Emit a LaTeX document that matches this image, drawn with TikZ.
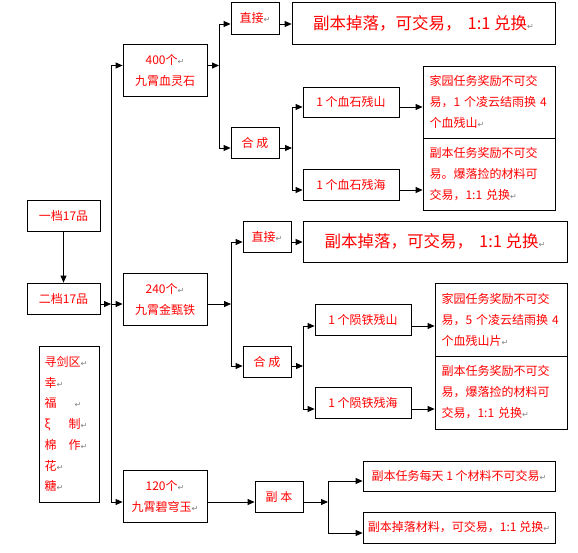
\documentclass[tikz,border=0pt]{standalone}
\usepackage{fontspec}
\setmainfont{Noto Sans CJK SC}
\newfontfamily\symfont{DejaVu Sans}
\usepackage{tikz}
\usetikzlibrary{arrows.meta}
\definecolor{txtred}{RGB}{255, 0, 0}
\definecolor{markgray}{RGB}{128, 128, 128}
\newcommand{\retmk}{{\color{markgray}\symfont\fontsize{8}{8}\selectfont ↵}}

\begin{document}
\begin{tikzpicture}[x=1pt, y=-1pt, line width=0.8pt, >={Triangle[length=7pt, width=6pt]},
  font=\fontsize{12}{21}\selectfont,
  box/.style={draw, text=txtred, inner sep=0pt, align=center},
  note/.style={box, align=left, text width=119pt, minimum width=132pt, minimum height=72pt},
  bignote/.style={box, font=\fontsize{16.5}{20}\selectfont}]
\useasboundingbox (0,0) rectangle (578,552);
% Left column: grades and signature
\node[box, minimum width=73pt, minimum height=31pt] (d1) at (63.5,215.5) {一档17品};
\node[box, minimum width=73pt, minimum height=31pt] (d2) at (63.5,298.5) {二档17品};
\node[box, align=left, text width=49pt, minimum width=60pt, minimum height=156pt,
  font=\fontsize{12}{20.7}\selectfont] (sig) at (69,424)
  {寻剑区\retmk\\ 幸\retmk\\ \makebox[30pt][l]{福}\retmk\\ \makebox[24pt][l]{ξ}制\retmk\\
   \makebox[24pt][l]{棉}作\retmk\\ 花\retmk\\ 糖\retmk};

% Materials
\node[box, minimum width=84pt, minimum height=52pt] (n400) at (165,70) {400个\retmk\\九霄血灵石};
\node[box, minimum width=84pt, minimum height=52pt] (n240) at (165,299) {240个\retmk\\九霄金甄铁};
\node[box, minimum width=84pt, minimum height=52pt] (n120) at (165,496) {120个\retmk\\九霄碧穹玉\retmk};

% Upper branch
\node[box, minimum width=48pt, minimum height=32pt] (z1) at (255,18) {直接\retmk};
\node[box, minimum width=48pt, minimum height=31pt] (h1) at (255,142.5) {合 成};
\node[bignote, minimum width=263pt, minimum height=42pt] (b1) at (423.5,23)
  {副本掉落，可交易，\hspace{6pt}1:1 兑换\retmk};
\node[box, minimum width=96pt, minimum height=30pt] (s1) at (351,102) {1 个血石残山};
\node[box, minimum width=96pt, minimum height=31pt] (s2) at (351,184.5) {1 个血石残海};
\node[note] (t1) at (489,102) {家园任务奖励不可交\\易，1 个凌云结雨换 4\\个血残山\retmk};
\node[note] (t2) at (489,174) {副本任务奖励不可交\\易。爆落捡的材料可\\交易，1:1 兑换\retmk};

% Middle branch
\node[box, minimum width=48pt, minimum height=31pt] (z2) at (267,236.5) {直接\retmk};
\node[box, minimum width=48pt, minimum height=31pt] (h2) at (267,361.5) {合 成};
\node[bignote, minimum width=264pt, minimum height=41pt] (b2) at (435,241.5)
  {副本掉落，可交易，\hspace{6pt}1:1 兑换\retmk};
\node[box, minimum width=96pt, minimum height=31pt] (s3) at (363,319.5) {1 个陨铁残山};
\node[box, minimum width=96pt, minimum height=31pt] (s4) at (363,402.5) {1 个陨铁残海};
\node[note, minimum height=73pt] (t3) at (501,319.5) {家园任务奖励不可交\\易，5 个凌云结雨换 4\\个血残山片\retmk};
\node[note, minimum height=73pt] (t4) at (501,392.5) {副本任务奖励不可交\\易，爆落捡的材料可\\交易，1:1 兑换\retmk};

% Lower branch
\node[box, minimum width=48pt, minimum height=31pt] (f1) at (279,496.5) {副 本};
\node[box, minimum width=192pt, minimum height=30pt] (g1) at (459,476) {副本任务每天 1 个材料不可交易\retmk};
\node[box, minimum width=192pt, minimum height=31pt] (g2) at (459,527.5) {副本掉落材料，可交易，1:1 兑换\retmk};

% Junctions
\coordinate (tr) at (111,304);
\coordinate (j1) at (219,65.5);
\coordinate (j2) at (292,148);
\coordinate (j3) at (231,304);
\coordinate (j4) at (303,366);
\coordinate (j5) at (328,502);

% Trunk
\draw[->] (d1) -- (d2);
\draw[->] (d2.east |- tr) -- (tr);
\draw[->] (tr) |- (n400.west |- j1);
\draw[->] (tr) -- (n240.west |- tr);
\draw[->] (tr) |- (n120.west |- j5);

% Upper connectors
\draw[->] (n400.east |- j1) -- (j1);
\draw[->] (j1) |- (z1.west |- 0,24);
\draw[->] (j1) |- (h1.west |- j2);
\draw[->] (z1.east |- 0,24) -- (b1.west |- 0,24);
\draw[->] (h1.east |- j2) -- (j2);
\draw[->] (j2) |- (s1.west |- 0,107);
\draw[->] (j2) |- (s2.west |- 0,190);
\draw[->] (s1.east |- 0,107) -- (t1.west |- 0,107);
\draw[->] (s2.east |- 0,190) -- (t2.west |- 0,190);

% Middle connectors
\draw[->] (n240.east |- j3) -- (j3);
\draw[->] (j3) |- (z2.west |- 0,242);
\draw[->] (j3) |- (h2.west |- j4);
\draw[->] (z2.east |- 0,242) -- (b2.west |- 0,242);
\draw[->] (h2.east |- j4) -- (j4);
\draw[->] (j4) |- (s3.west |- 0,326);
\draw[->] (j4) |- (s4.west |- 0,409);
\draw[->] (s3.east |- 0,326) -- (t3.west |- 0,326);
\draw[->] (s4.east |- 0,409) -- (t4.west |- 0,409);

% Lower connectors
\draw[->] (n120.east |- j5) -- (f1.west |- j5);
\draw[->] (f1.east |- j5) -- (j5);
\draw[->] (j5) |- (g1.west |- 0,481);
\draw[->] (j5) |- (g2.west |- 0,533);
\end{tikzpicture}
\end{document}
